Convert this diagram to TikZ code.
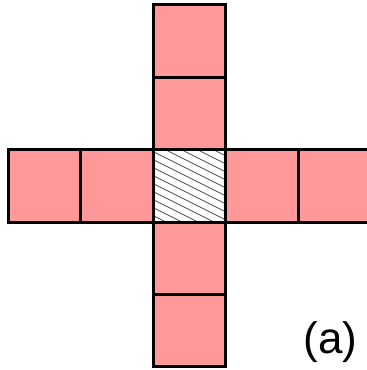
\documentclass[tikz,border=0pt]{standalone}
\usepackage{fontspec}
\setmainfont{Liberation Sans}

\begin{document}
\begin{tikzpicture}[
  x=1pt, y=1pt,
  cell/.style={rectangle, draw, line width=3pt, fill=cellpink,
    minimum size=72.4pt, inner sep=0pt, outer sep=0pt},
  hatch/.style={draw=black!70, line width=0.8pt}]
  \definecolor{cellpink}{RGB}{255,153,153}
  \useasboundingbox (0,0) rectangle (367,370);
  \clip (0,0) rectangle (367,370);

  % ---- cells --------------------------------------------------------------
  % vertical arm, top to bottom
  \node[cell] (T2) at (189.5,328.8) {};
  \node[cell] (T1) at (189.5,256.4) {};
  \node[cell] (B1) at (189.5,111.6) {};
  \node[cell] (B2) at (189.5,39.2)  {};
  % horizontal arm, left to right
  \node[cell] (L2) at (44.7,184)    {};
  \node[cell] (L1) at (117.1,184)   {};
  \node[cell] (R1) at (261.9,184)   {};
  \node[cell] (R2) at (334.3,184)   {};
  % hatched centre
  \node[cell, fill=white] (C) at (189.5,184) {};
  \begin{scope}
    \clip (C.south west) rectangle (C.north east);
    \foreach \k in {0,...,18}
      \draw[hatch] (150,{148+8*\k}) -- +(80,-40);
  \end{scope}
  \node[cell, fill=none] at (C) {};

  % ---- label --------------------------------------------------------------
  \node[inner sep=0pt] (lab) at (330.5,28)
    {\fontsize{44}{50}\selectfont (a)};
\end{tikzpicture}
\end{document}
